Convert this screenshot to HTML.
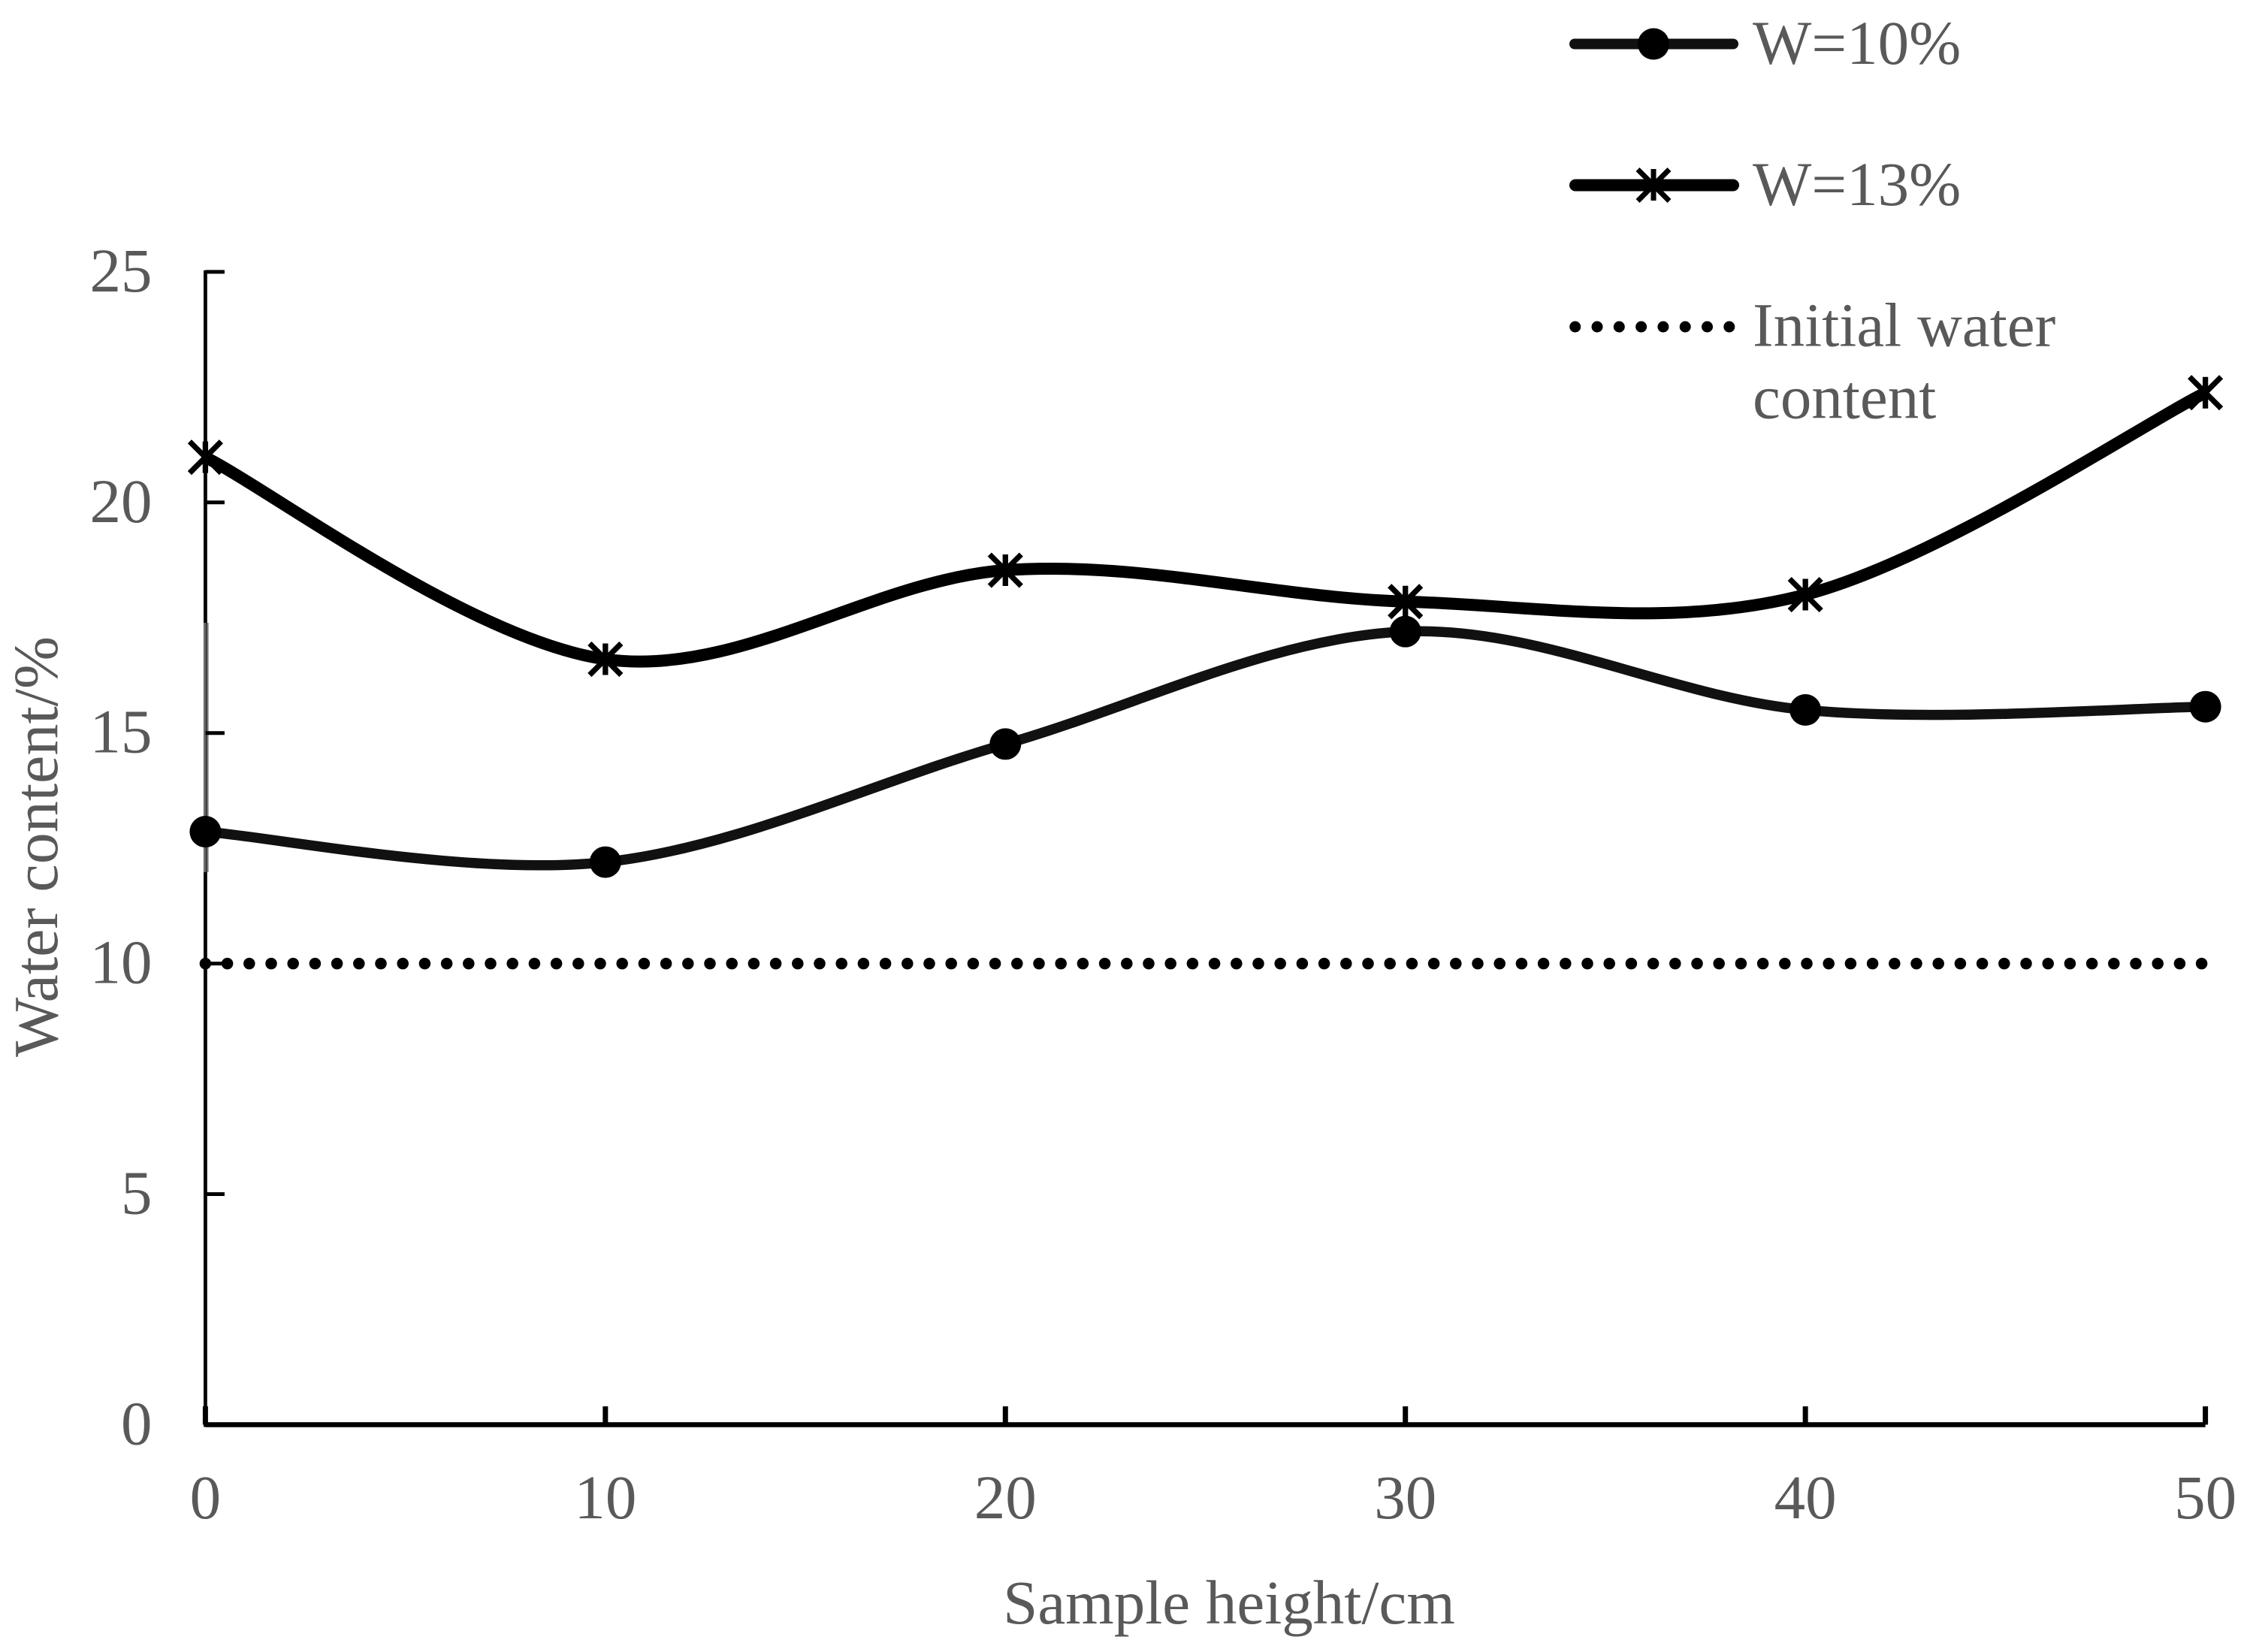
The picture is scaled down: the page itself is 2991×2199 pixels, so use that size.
<!DOCTYPE html>
<html lang="en">
<head>
<meta charset="utf-8">
<title>Water content vs sample height</title>
<style>
html,body{margin:0;padding:0;background:#fff;}
svg{display:block;}
text{font-family:"Liberation Serif",serif;font-size:83px;fill:#595959;}
</style>
</head>
<body>
<svg id="chart" xmlns="http://www.w3.org/2000/svg" width="2991" height="2199" viewBox="0 0 2991 2199">
  <rect x="0" y="0" width="2991" height="2199" fill="#fff"/>
  <g id="axes"></g>
  <g id="series"></g>
  <g id="labels"></g>
  <text x="1636" y="2161" text-anchor="middle">Sample height/cm</text>
  <text style="font-size:84px" transform="translate(76 1127) rotate(-90)" text-anchor="middle">Water content/%</text>
  <g>
    <g>
      <line x1="2096" y1="58.5" x2="2307" y2="58.5" stroke="#111" stroke-width="14" stroke-linecap="round"/>
      <circle cx="2201" cy="58.5" r="21" fill="#000"/>
      <text x="2333" y="85">W=10%</text>
    </g>
    <g>
      <line x1="2097" y1="246.5" x2="2307" y2="246.5" stroke="#000" stroke-width="16" stroke-linecap="round"/>
      <path d="M2201 225V267M2180 225.500L2222 267.500M2222 225.500L2180 267.500" stroke="#000" stroke-width="7" fill="none"/>
      <text x="2333" y="273">W=13%</text>
    </g>
    <g>
      <line x1="2096.7" y1="435" x2="2302" y2="435" stroke="#000" stroke-width="15" stroke-linecap="round" stroke-dasharray="0 29.3"/>
      <text x="2333" y="460.5">Initial water</text>
      <text x="2333" y="556.5">content</text>
    </g>
  </g>
</svg>
<script>
const heights = [0, 10, 20, 30, 40, 50];
const w10Values = [12.86, 12.2, 14.76, 17.2, 15.5, 15.57];
const w13Values = [20.98, 16.6, 18.53, 17.85, 18.0, 22.38];
const initialValues = [10, 10];
const initialHeights = [0, 50];
const yTickValues = [0, 5, 10, 15, 20, 25];
const xTickValues = [0, 10, 20, 30, 40, 50];

const NS = 'http://www.w3.org/2000/svg';
const xScale = v => 273.4 + (v / 50) * 2662.2;
const yScale = v => 1896.4 - (v / 25) * 1534.5;

function make(tag, parent, attrs) {
  const el = document.createElementNS(NS, tag);
  for (const k in attrs) el.setAttribute(k, attrs[k]);
  parent.appendChild(el);
  return el;
}

function smoothPath(xs, ys) {
  const p = xs.map((x, i) => [xScale(x), yScale(ys[i])]);
  let d = 'M' + p[0][0] + ' ' + p[0][1];
  for (let i = 0; i < p.length - 1; i++) {
    const a = p[Math.max(i - 1, 0)], b = p[i], c = p[i + 1], e = p[Math.min(i + 2, p.length - 1)];
    const c1x = b[0] + (c[0] - a[0]) / 6, c1y = b[1] + (c[1] - a[1]) / 6;
    const c2x = c[0] - (e[0] - b[0]) / 6, c2y = c[1] - (e[1] - b[1]) / 6;
    d += 'C' + c1x + ' ' + c1y + ' ' + c2x + ' ' + c2y + ' ' + c[0] + ' ' + c[1];
  }
  return d;
}

const axes = document.getElementById('axes');
const series = document.getElementById('series');
const labels = document.getElementById('labels');

const yAxisEl = make('line', axes, {x1: xScale(0), y1: yScale(25) - 2, x2: xScale(0), y2: yScale(0) + 3, stroke: '#000', 'stroke-width': 4.8});



const yAxisGrey = make('rect', axes, {x: 271.3, y: 829, width: 6.3, height: 332, fill: '#7c7c7c'});



const yAxisCore = make('rect', axes, {x: 273.6, y: 829, width: 2, height: 332, fill: '#333'});



const xAxisEl = make('line', axes, {x1: xScale(0), y1: yScale(0), x2: xScale(50), y2: yScale(0), stroke: '#000', 'stroke-width': 6.6});



yTickValues.forEach(v => {
  if (v > 0) {
    const t = make('line', axes, {x1: xScale(0), y1: yScale(v), x2: xScale(0) + 25.5, y2: yScale(v), stroke: '#000', 'stroke-width': 5});
    
    
  }
  const l = make('text', labels, {x: 202.5, y: yScale(v) + 26, 'text-anchor': 'end'});
  l.textContent = v;
  
  
});

xTickValues.forEach(v => {
  const t = make('line', axes, {x1: xScale(v), y1: yScale(0), x2: xScale(v), y2: yScale(0) - 24.4, stroke: '#000', 'stroke-width': 7});
  
  
  const l = make('text', labels, {x: xScale(v), y: 2021, 'text-anchor': 'middle'});
  l.textContent = v;
  
  
});

const initialLine = make('line', series, {x1: xScale(initialHeights[0]), y1: yScale(initialValues[0]), x2: xScale(initialHeights[1]), y2: yScale(initialValues[1]), stroke: '#000', 'stroke-width': 15.5, 'stroke-linecap': 'round', 'stroke-dasharray': '0 29.2'});



const w10Line = make('path', series, {d: smoothPath(heights, w10Values), fill: 'none', stroke: '#111', 'stroke-width': 13.5});



const w13Line = make('path', series, {d: smoothPath(heights, w13Values), fill: 'none', stroke: '#000', 'stroke-width': 16});



heights.forEach((h, i) => {
  const c = make('circle', series, {cx: xScale(h), cy: yScale(w10Values[i]), r: 21, fill: '#000'});
  
  
  const x = xScale(h), y = yScale(w13Values[i]);
  const s = make('path', series, {d: 'M' + x + ' ' + (y - 21) + 'V' + (y + 21) + 'M' + (x - 21) + ' ' + (y - 21) + 'L' + (x + 21) + ' ' + (y + 21) + 'M' + (x + 21) + ' ' + (y - 21) + 'L' + (x - 21) + ' ' + (y + 21), fill: 'none', stroke: '#000', 'stroke-width': 7.3});
  
  
});
</script>
</body>
</html>
